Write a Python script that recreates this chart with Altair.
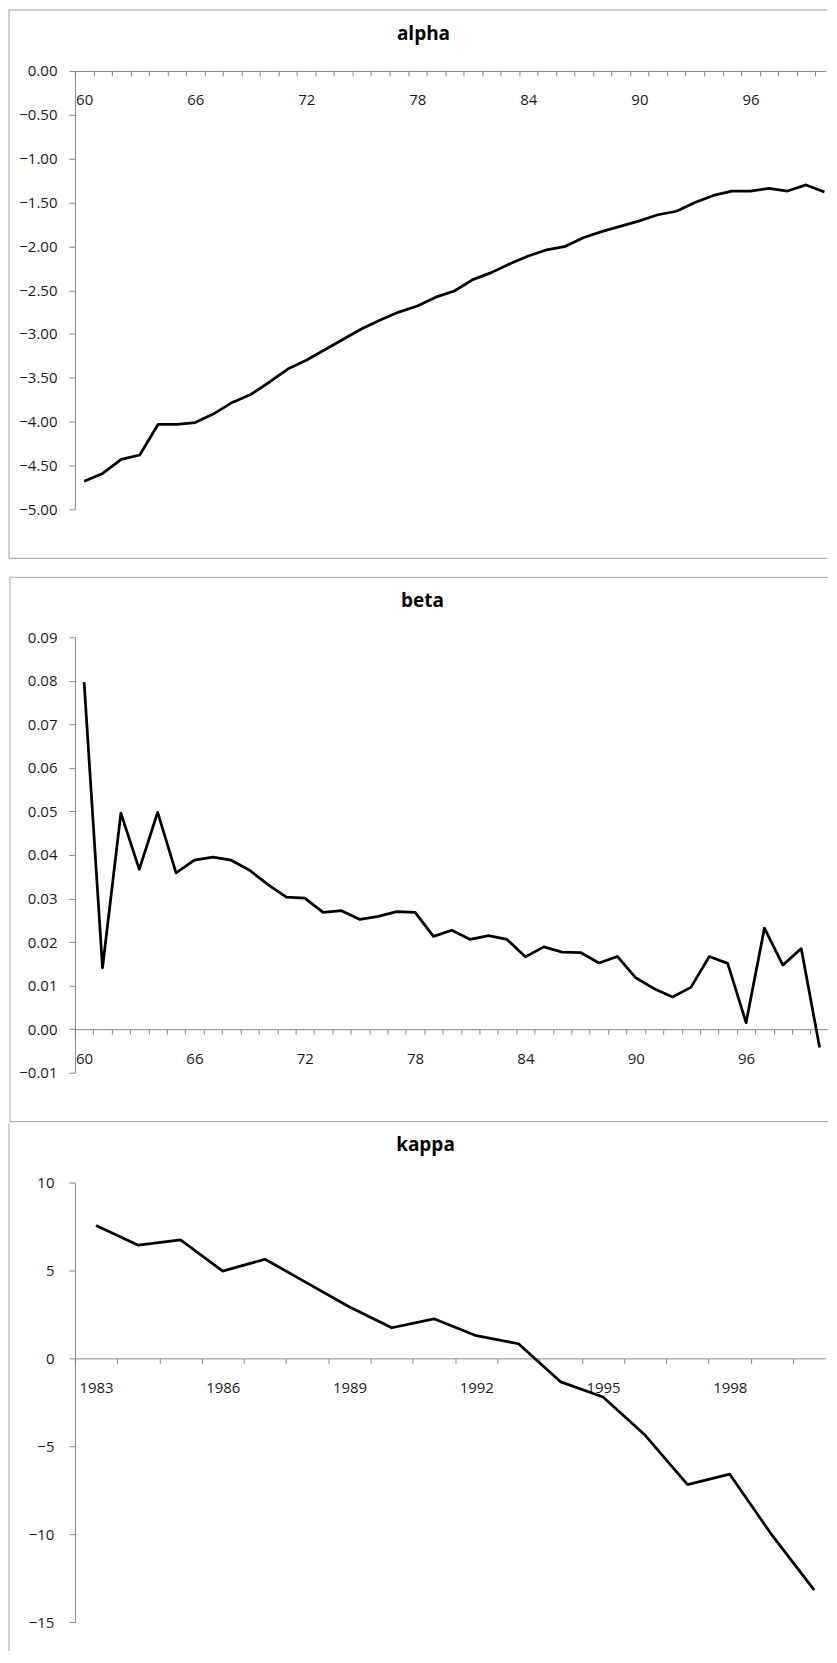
import altair as alt
import pandas as pd

# ---- data ----
AGES = list(range(60, 101))
ALPHA = [-4.68, -4.59, -4.43, -4.38, -4.03, -4.03, -4.01, -3.91, -3.78, -3.69,
         -3.55, -3.40, -3.30, -3.18, -3.06, -2.94, -2.84, -2.75, -2.68, -2.58,
         -2.51, -2.38, -2.30, -2.20, -2.11, -2.04, -2.00, -1.90, -1.83, -1.77,
         -1.71, -1.64, -1.60, -1.50, -1.42, -1.37, -1.37, -1.34, -1.37, -1.30,
         -1.38]
BETA = [0.0797, 0.0141, 0.0496, 0.0367, 0.0498, 0.0359, 0.0388, 0.0395, 0.0388, 0.0365,
        0.0332, 0.0303, 0.0301, 0.0268, 0.0272, 0.0252, 0.0259, 0.0270, 0.0268, 0.0213,
        0.0227, 0.0206, 0.0215, 0.0206, 0.0166, 0.0189, 0.0177, 0.0176, 0.0152, 0.0167,
        0.0118, 0.0093, 0.0074, 0.0096, 0.0167, 0.0151, 0.0015, 0.0232, 0.0147, 0.0185,
        -0.0042]
YEARS = list(range(1983, 2001))
KAPPA = [7.56, 6.44, 6.74, 4.96, 5.64, 4.28, 2.92, 1.74, 2.25, 1.29, 0.83, -1.34,
         -2.20, -4.38, -7.18, -6.59, -10.06, -13.18]

TITLES = ["alpha", "beta", "kappa"]
ALPHA_TICKS = [0.0, -0.5, -1.0, -1.5, -2.0, -2.5, -3.0, -3.5, -4.0, -4.5, -5.0]
BETA_TICKS = [-0.01, 0.0, 0.01, 0.02, 0.03, 0.04, 0.05, 0.06, 0.07, 0.08, 0.09]
KAPPA_TICKS = [-15, -10, -5, 0, 5, 10]

FONT = "Open Sans"
AXIS_COLOR = "#868686"
FRAME_COLOR = "#a0a0a0"
TEXT_COLOR = "#1a1a1a"


def rule(x1, x2, y1, y2):
    base = alt.Chart(alt.Data(values=[{"k": 1}])).mark_rule(
        color=FRAME_COLOR, strokeWidth=1
    )
    if x1 == x2:
        return base.encode(x=alt.value(x1), y=alt.value(y1), y2=alt.value(y2))
    return base.encode(x=alt.value(x1), x2=alt.value(x2), y=alt.value(y1))


def panel(xs, ys, title, ydomain, yticks, yfmt, width, height, spacing,
          label_start, label_every, ylabel_pad, title_pos, frame):
    df = pd.DataFrame({"x": xs, "y": ys})
    lo_x = xs[0] - 0.5
    hi_x = lo_x + width / spacing
    tick_vals = [lo_x + i for i in range(len(xs) + 1) if lo_x + i <= hi_x]
    half = spacing / 2
    last = xs[-1]
    label_expr = (
        f"((datum.value + 0.5 - {label_start}) % {label_every} == 0) && "
        f"(datum.value + 0.5 <= {last}) ? toString(datum.value + 0.5) : ''"
    )
    ylo, yhi = ydomain
    x_offset = -height * (0 - ylo) / (yhi - ylo)

    x_axis = alt.Axis(
        orient="bottom", offset=x_offset, values=tick_vals, labelExpr=label_expr,
        labelOffset=half, tickSize=5, tickColor=AXIS_COLOR, domainColor=AXIS_COLOR,
        labelFont=FONT, labelFontSize=15, labelColor=TEXT_COLOR,
        labelBaseline="middle", labelAlign="center", labelPadding=24,
        labelOverlap=False, labelFlush=False, grid=False, title=None,
    )
    y_axis = alt.Axis(
        values=yticks, format=yfmt, tickSize=6, tickColor=AXIS_COLOR,
        domainColor=AXIS_COLOR, labelFont=FONT, labelFontSize=15,
        labelColor=TEXT_COLOR, labelPadding=ylabel_pad, grid=False, title=None,
        labelOverlap=False, labelFlush=False,
    )

    line = alt.Chart(df).mark_line(
        color="black", strokeWidth=2.75, strokeJoin="round"
    ).encode(
        x=alt.X("x:Q", scale=alt.Scale(domain=[lo_x, hi_x], nice=False, zero=False), axis=x_axis),
        y=alt.Y("y:Q", scale=alt.Scale(domain=[ylo, yhi], nice=False, zero=False), axis=y_axis),
    )

    fx1, fx2, fy1, fy2, draw_top, draw_bottom = frame
    layers = [rule(fx1, fx1, fy1, fy2)]
    if draw_top:
        layers.append(rule(fx1, fx2, fy1, fy1))
    if draw_bottom:
        layers.append(rule(fx1, fx2, fy2, fy2))

    tx, ty = title_pos
    ttl = alt.Chart(alt.Data(values=[{"t": title}])).mark_text(
        font=FONT, fontSize=19, fontWeight="bold", color="black",
        align="center", baseline="alphabetic",
    ).encode(text="t:N", x=alt.value(tx), y=alt.value(ty))

    return alt.layer(*layers, line, ttl).properties(width=width, height=height)


p1 = panel(AGES, ALPHA, TITLES[0], (-5.0, 0.0), ALPHA_TICKS, ".2f", 752, 439, 18.53,
           60, 6, 12, (349, -31), (-66, 753, -61, 488, True, True))
p2 = panel(AGES, BETA, TITLES[1], (-0.01, 0.09), BETA_TICKS, ".2f", 753, 436, 18.41,
           60, 6, 12, (348, -30), (-65, 754, -60, 485, True, True))
p3 = panel(YEARS, KAPPA, TITLES[2], (-15, 10), KAPPA_TICKS, "d", 752, 440, 42.3,
           1983, 3, 15, (351, -32), (-66, 753, -59, 469, False, False))

chart = alt.vconcat(
    p1, alt.vconcat(p2, p3, spacing=0), spacing=17
).properties(
    padding={"left": 0, "top": 0, "right": 0, "bottom": 0}
).configure_view(stroke=None)

chart.save("out.html", embed_options={"renderer": "svg", "actions": False})
